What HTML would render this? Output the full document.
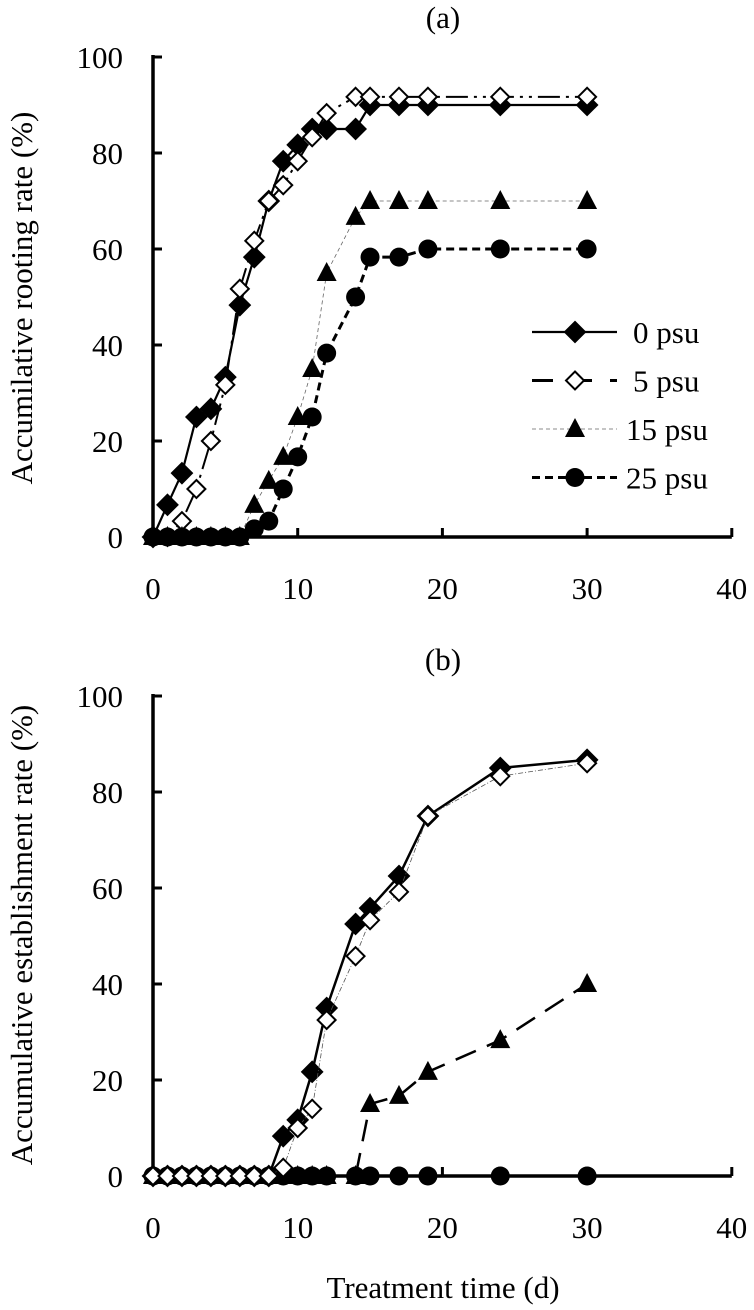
<!DOCTYPE html>
<html><head><meta charset="utf-8"><style>
html,body{margin:0;padding:0;background:#fff;}
svg{display:block;font-family:"Liberation Serif",serif;}
</style></head><body>
<svg id="c" width="754" height="1310" viewBox="0 0 754 1310" xmlns="http://www.w3.org/2000/svg"></svg>
<script>
const xTicks=[0,10,20,30,40];
const yTicks=[0,20,40,60,80,100];
const daysA=[0,1,2,3,4,5,6,7,8,9,10,11,12,14,15,17,19,24,30];
const a0=[0,6.7,13.3,25,26.7,33.3,48.3,58.3,70,78.3,81.7,85,85,85,90,90,90,90,90];
const a5=[0,0,3.3,10,20,31.7,51.7,61.7,70,73.3,78.3,83.3,88.3,91.7,91.7,91.7,91.7,91.7,91.7];
const a15=[0,0,0,0,0,0,0,6.7,11.7,16.7,25,35,55,66.7,70,70,70,70,70];
const a25=[0,0,0,0,0,0,0,1.7,3.3,10,16.7,25,38.3,50,58.3,58.3,60,60,60];
const daysB=[0,1,2,3,4,5,6,7,8,9,10,11,12,14,15,17,19,24,30];
const b0=[0,0,0,0,0,0,0,0,0,8.3,11.7,21.7,35,52.5,55.8,62.5,75,85,86.7];
const b5=[0,0,0,0,0,0,0,0,0,1.7,10,14,32.5,45.8,53.3,59.2,75,83.3,86];
const b15=[0,0,0,0,0,0,0,0,0,0,0,0,0,0,15,16.7,21.7,28.3,40];
const b25=[0,0,0,0,0,0,0,0,0,0,0,0,0,0,0,0,0,0,0];
const legendLabels=["0 psu","5 psu","15 psu","25 psu"];

const NS="http://www.w3.org/2000/svg";
const svg=document.getElementById('c');
const FS=31;
function el(t,at,p){const e=document.createElementNS(NS,t);for(const k in at)e.setAttribute(k,at[k]);(p||svg).appendChild(e);return e;}
const X0=153,XS=14.47;
function sx(v){return X0+v*XS;}
function mkY(y0){return v=>y0-v*4.8;}

function marker(g,kind,x,y){
  let m;
  if(kind==='dfill'||kind==='dopen'){
    const r=kind==='dfill'?10:9;
    m=el('polygon',{points:`${x},${y-r} ${x+r},${y} ${x},${y+r} ${x-r},${y}`,fill:kind==='dfill'?'#000':'#fff',stroke:'#000','stroke-width':2},g);
  }else if(kind==='tri'){
    m=el('polygon',{points:`${x},${y-11} ${x+10},${y+8} ${x-10},${y+8}`,fill:'#000'},g);
  }else{
    m=el('circle',{cx:x,cy:y,r:9.5,fill:'#000'},g);
  }
  return m;
}

function series(name,days,vals,sy,style,kind,p){
  const g=el('g',{},p);
  
  
  const pts=days.map((d,i)=>sx(d)+','+sy(vals[i])).join(' ');
  const ln=el('polyline',Object.assign({points:pts,fill:'none',stroke:'#000'},style),g);
  
  
  days.forEach((d,i)=>{
    const m=marker(g,kind,sx(d),sy(vals[i]));
    
    
  });
}

function axes(p,sy,title,titleY,pname){
  const g=el('g',{},p);
  
  
  el('line',{x1:sx(0),y1:sy(0),x2:sx(40),y2:sy(0),stroke:'#000','stroke-width':3.5},g);
  el('line',{x1:sx(0),y1:sy(0),x2:sx(0),y2:sy(100)-2,stroke:'#000','stroke-width':3.5},g);
  xTicks.forEach(t=>{
    el('line',{x1:sx(t),y1:sy(0),x2:sx(t),y2:sy(0)-9,stroke:'#000','stroke-width':3},g);
    const tx=el('text',{x:sx(t),y:sy(0)+62,'font-size':FS,'text-anchor':'middle'},g);
    tx.textContent=t;
    
    
  });
  yTicks.forEach(t=>{
    el('line',{x1:sx(0),y1:sy(t),x2:sx(0)+9,y2:sy(t),stroke:'#000','stroke-width':3},g);
    const tx=el('text',{x:sx(0)-30,y:sy(t)+11,'font-size':FS,'text-anchor':'end'},g);
    tx.textContent=t;
    
    
  });
  const yt=el('text',{x:0,y:0,'font-size':FS,'text-anchor':'middle',transform:`translate(32,${titleY}) rotate(-90)`},g);
  yt.textContent=title;
  
  
}

// Panel A
const pa=el('g',{});


const syA=mkY(537);
const ta=el('text',{x:443,y:28,'font-size':FS,'text-anchor':'middle'},pa);
ta.textContent='(a)';


axes(pa,syA,'Accumilative rooting rate (%)',298,'panel-a');
const stA=[{'stroke-width':2.2},{'stroke-width':2,'stroke-dasharray':'22 6 3 6 3 6'},{'stroke-width':0.8,'stroke':'#666','stroke-dasharray':'4 3'},{'stroke-width':3,'stroke-dasharray':'8 5'}];
series('a-series-0psu',daysA,a0,syA,stA[0],'dfill',pa);
series('a-series-5psu',daysA,a5,syA,stA[1],'dopen',pa);
series('a-series-15psu',daysA,a15,syA,stA[2],'tri',pa);
series('a-series-25psu',daysA,a25,syA,stA[3],'circ',pa);
// legend
const lg=el('g',{},pa);


const legKinds=['dfill','dopen','tri','circ'];
const legStyles=[{'stroke-width':2.2},{'stroke-width':3,'stroke-dasharray':'21 18'},{'stroke-width':0.8,'stroke':'#666','stroke-dasharray':'4 3'},{'stroke-width':3,'stroke-dasharray':'8 5'}];
legendLabels.forEach((lab,i)=>{
  const y=332+i*48.5;
  const e=el('g',{},lg);
  
  
  el('line',Object.assign({x1:532,y1:y,x2:617,y2:y,stroke:'#000'},legStyles[i]),e);
  marker(e,legKinds[i],575,y);
  const t=el('text',{x:i<2?633:626,y:y+11,'font-size':FS},e);
  t.textContent=lab;
});

// Panel B
const pb=el('g',{});


const syB=mkY(1176);
const tb=el('text',{x:443,y:670,'font-size':FS,'text-anchor':'middle'},pb);
tb.textContent='(b)';


axes(pb,syB,'Accumulative establishment  rate (%)',935,'panel-b');
series('b-series-25psu',daysB,b25,syB,{'stroke-width':3,'stroke-dasharray':'8 5'},'circ',pb);
series('b-series-15psu',daysB,b15,syB,{'stroke-width':2.5,'stroke-dasharray':'22 12'},'tri',pb);
series('b-series-0psu',daysB,b0,syB,{'stroke-width':2.5},'dfill',pb);
series('b-series-5psu',daysB,b5,syB,{'stroke-width':0.8,'stroke':'#555','stroke-dasharray':'5 2 1 2'},'dopen',pb);
const xt=el('text',{x:443,y:1298,'font-size':FS,'text-anchor':'middle'});
xt.textContent='Treatment time (d)';


</script>
</body></html>
